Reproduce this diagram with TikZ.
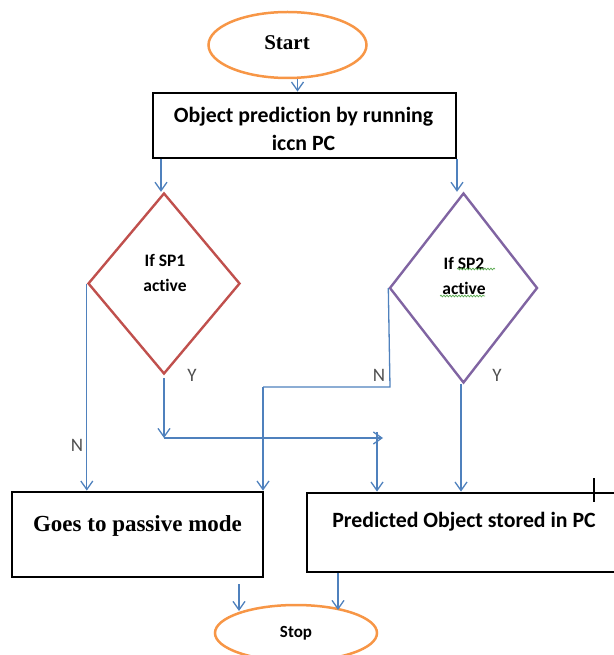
\documentclass[tikz,border=0pt]{standalone}
\usepackage{fontspec}
\setmainfont{Liberation Serif}
\newfontfamily\calfont[Ligatures=NoCommon]{Carlito}
\usetikzlibrary{arrows.meta,shapes.geometric,calc,decorations.pathmorphing}
\definecolor{flowblue}{RGB}{79,129,189}
\definecolor{termorange}{RGB}{247,150,70}
\definecolor{dred}{RGB}{192,80,77}
\definecolor{dpurple}{RGB}{128,100,162}
\definecolor{spellgreen}{RGB}{90,170,80}
\definecolor{lblgray}{RGB}{80,80,80}
\begin{document}
\begin{tikzpicture}[x=1pt,y=-1pt,
 arr/.style={draw=flowblue, line width=1.3pt, -{Straight Barb[length=8.5pt,width=12pt]}},
 flowline/.style={draw=flowblue, line width=1.3pt},
 term/.style={ellipse, draw=termorange, line width=2.5pt, inner sep=0pt},
 box/.style={rectangle, draw=black, line width=2.8pt, inner sep=0pt},
 decision/.style={diamond, line width=2.4pt, inner sep=0pt},
 yn/.style={font=\calfont\fontsize{19}{19}\selectfont, text=lblgray, inner sep=0pt},
 caltext/.style={font=\calfont\bfseries\fontsize{21.8}{28}\selectfont, align=center, inner sep=0pt},
 smalltext/.style={font=\calfont\bfseries\fontsize{17.5}{25}\selectfont, align=center, inner sep=0pt},
 squiggle/.style={draw=spellgreen, line width=0.7pt, decorate, decoration={snake, amplitude=0.9pt, segment length=3pt}},
]
\useasboundingbox (0,0) rectangle (613,655);

% terminals
\node[term, minimum width=158pt, minimum height=66pt] (start) at (287.5,45) {};
\node[font=\bfseries\fontsize{21}{21}\selectfont, inner sep=0pt] (starttxt) at (287,43) {Start};
\node[term, minimum width=162pt, minimum height=56pt] (stop) at (296,633) {};
\node[font=\calfont\bfseries\fontsize{17}{17}\selectfont, inner sep=0pt] (stoptxt) at (296,633) {Stop};

% process boxes
\node[box, minimum width=303pt, minimum height=65pt] (box1) at (304.5,125.5) {};
\node[caltext] (box1txt) at (303.5,129) {Object prediction by running\\iccn PC};
\node[box, minimum width=251pt, minimum height=85pt] (box2) at (137.5,534.5) {};
\node[font=\bfseries\fontsize{23}{23}\selectfont, inner sep=0pt] (box2txt) at (137.5,526) {Goes to passive mode};
\node[box, minimum width=323pt, minimum height=79pt] (box3) at (468.5,532.5) {};
\node[caltext] (box3txt) at (464,522) {Predicted Object stored in PC};

% decisions
\node[decision, draw=dred, minimum width=152pt, minimum height=181pt] (d1) at (164,283.5) {};
\node[smalltext] (d1txt) at (165,273) {If SP1\\active};
\node[decision, draw=dpurple, minimum width=148pt, minimum height=190pt] (d2) at (463.5,288) {};
\node[smalltext] (d2txt) at (464,276) {If SP2\\active};
\draw[squiggle] (457,269) -- (495,269);
\draw[squiggle] (440,296) -- (485,296);

% junction points
\coordinate (j1) at (164,438);
\coordinate (j2) at (383,438);
\coordinate (j3) at (377,432);
\coordinate (n2a) at (390,387);
\coordinate (n2b) at (263,387);

% connectors
\draw[arr] ([xshift=10pt]start.south) -- ([xshift=10pt]start.south |- box1.north);
\draw[arr] (161,0 |- box1.south) -- (161,0 |- d1.north);
\draw[arr] (457,0 |- box1.south) -- (457,0 |- d2.north);
\draw[arr] (d1.west) -- (d1.west |- box2.north);
\draw[arr] ($(d1.south)+(0,3)$) -- (j1);
\draw[arr] (j1) -- (j2);
\draw[arr] (j3) -- (j3 |- box3.north);
\draw[flowline] (d2.west) -- (n2a) -- (n2b);
\draw[arr] (n2b) -- (n2b |- box2.north);
\draw[arr] (461,0 |- d2.south) -- (461,0 |- box3.north);
\draw[arr] ($(239,0 |- box2.south)+(0,6)$) -- (239,611);
\draw[arr] (338,0 |- box3.south) -- (338,610);

% labels
\node[yn] (lblN1) at (77,445) {N};
\node[yn] (lblY1) at (192,375) {Y};
\node[yn] (lblN2) at (379,375) {N};
\node[yn] (lblY2) at (497,375) {Y};

% cursor mark
\draw[black, line width=2.5pt] (594,478) -- (594,502);
\end{tikzpicture}
\end{document}
